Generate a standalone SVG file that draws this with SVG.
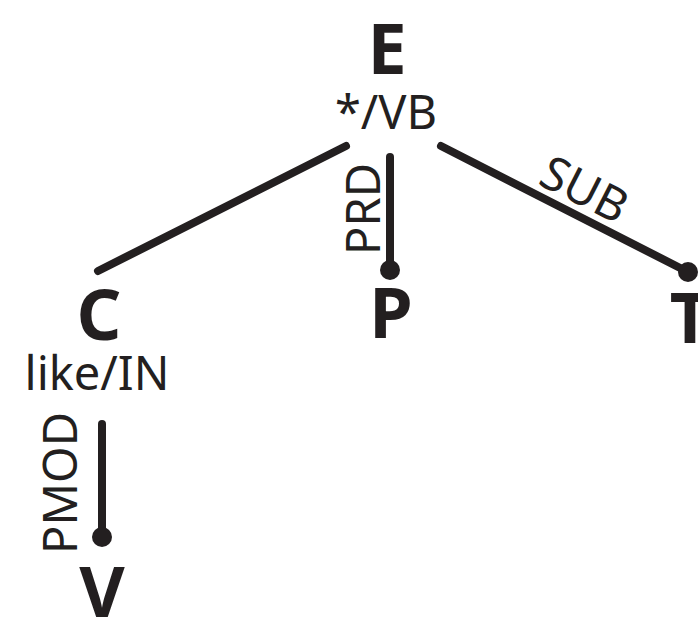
<svg xmlns="http://www.w3.org/2000/svg" width="698" height="618" viewBox="0 0 698 618">
<style>
.node{font-family:"Noto Sans","Open Sans",sans-serif;font-weight:bold;font-size:70px;fill:#231f20;text-anchor:middle}
.lab{font-family:"Noto Sans","Open Sans",sans-serif;font-size:47px;fill:#231f20;text-anchor:middle}
.edge{stroke:#231f20;stroke-width:8;stroke-linecap:round;fill:none}
.dot{fill:#231f20}
</style>
<rect width="698" height="618" fill="#fff"/>
<g id="connectors">
<line class="edge" x1="346" y1="146" x2="98" y2="271"/>
<line class="edge" x1="390" y1="157" x2="390" y2="270"/>
<circle class="dot" cx="390" cy="270" r="10"/>
<text class="lab" transform="translate(380,209) rotate(-90)">PRD</text>
<line class="edge" x1="441" y1="146" x2="688" y2="272"/>
<circle class="dot" cx="688" cy="272" r="10"/>
<text class="lab" transform="translate(577,204) rotate(27)">SUB</text>
<line class="edge" x1="102" y1="424" x2="102" y2="537"/>
<circle class="dot" cx="102" cy="537" r="10"/>
<text class="lab" transform="translate(77,483) rotate(-90)">PMOD</text>
</g>
<g id="node-E">
<text class="node" x="387" y="74">E</text>
<text class="lab" x="386" y="129">*/VB</text>
</g>
<g id="node-C">
<text class="node" x="99" y="340">C</text>
<text class="lab" x="97" y="390">like/IN</text>
</g>
<g id="node-P">
<text class="node" x="391" y="338">P</text>
</g>
<g id="node-T">
<text class="node" x="690" y="343">T</text>
</g>
<g id="node-V">
<text class="node" x="102" y="617">V</text>
</g>
</svg>
